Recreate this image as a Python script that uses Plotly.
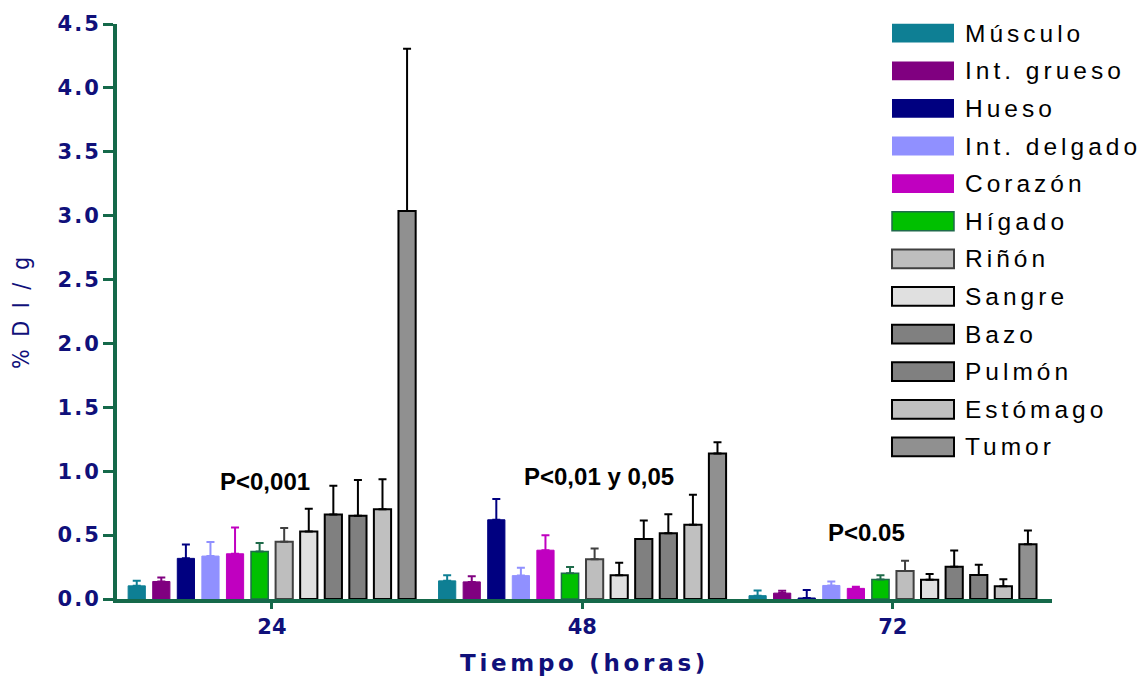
import plotly.graph_objects as go

# ---------------- data ----------------
times = ["24", "48", "72"]
tissues = ["Músculo", "Int. grueso", "Hueso", "Int. delgado", "Corazón", "Hígado",
           "Riñón", "Sangre", "Bazo", "Pulmón", "Estómago", "Tumor"]

musculo = [0.103, 0.142, 0.026]
int_grueso = [0.137, 0.134, 0.046]
hueso = [0.318, 0.620, 0.008]
int_delgado = [0.336, 0.183, 0.106]
corazon = [0.354, 0.382, 0.083]
higado = [0.372, 0.201, 0.152]
rinon = [0.449, 0.312, 0.219]
sangre = [0.529, 0.186, 0.150]
bazo = [0.661, 0.470, 0.253]
pulmon = [0.651, 0.514, 0.188]
estomago = [0.702, 0.581, 0.100]
tumor = [3.036, 1.139, 0.428]

musculo_err = [0.039, 0.044, 0.041]
int_grueso_err = [0.031, 0.044, 0.018]
hueso_err = [0.108, 0.162, 0.062]
int_delgado_err = [0.111, 0.062, 0.031]
corazon_err = [0.206, 0.116, 0.012]
higado_err = [0.067, 0.049, 0.034]
rinon_err = [0.106, 0.083, 0.081]
sangre_err = [0.178, 0.098, 0.046]
bazo_err = [0.225, 0.144, 0.127]
pulmon_err = [0.281, 0.150, 0.080]
estomago_err = [0.235, 0.235, 0.055]
tumor_err = [1.271, 0.087, 0.109]

p_labels = ["P<0,001", "P<0,01 y 0,05", "P<0.05"]

values = [musculo, int_grueso, hueso, int_delgado, corazon, higado,
          rinon, sangre, bazo, pulmon, estomago, tumor]
errors = [musculo_err, int_grueso_err, hueso_err, int_delgado_err, corazon_err, higado_err,
          rinon_err, sangre_err, bazo_err, pulmon_err, estomago_err, tumor_err]

# ---------------- styles ----------------
fills = ["#0E7F94", "#800080", "#000080", "#9090FF", "#C000C0", "#00C000",
         "#BEBEBE", "#E0E0E0", "#808080", "#808080", "#C0C0C0", "#909090"]
outlines = ["#0E7F94", "#800080", "#000080", "#9090FF", "#C000C0", "#1F6B4A",
            "#404040", "#000000", "#000000", "#000000", "#000000", "#000000"]
outline_w = [1, 1, 1, 1, 1, 1.5, 2, 2, 2, 2, 2, 2]
err_colors = ["#0E7F94", "#800080", "#000080", "#9090FF", "#C000C0", "#1F6B4A",
              "#404040", "#000000", "#000000", "#000000", "#000000", "#000000"]

GREEN = "#15694A"
NAVY = "#10107A"
FONT = "Liberation Sans, Arial, sans-serif"
BOLDFONT = "DejaVu Sans, Verdana, sans-serif"
NARROW = "Liberation Sans Narrow, DejaVu Sans Condensed, Arial Narrow, sans-serif"

W, H = 1143, 685
ML, MT = 117, 24
MR = W - 1052
MB = H - 605
PW, PH = W - ML - MR, H - MT - MB


def px_x(p):
    return (p - ML) / PW


def px_y(p):
    return (H - MB - p) / PH


fig = go.Figure()
xpos = list(range(len(times)))
for i, name in enumerate(tissues):
    fig.add_trace(go.Bar(
        x=xpos, y=values[i], name=name, showlegend=False,
        marker=dict(color=fills[i], line=dict(color=outlines[i], width=outline_w[i])),
        error_y=dict(type="data", array=errors[i], arrayminus=[0] * len(times),
                     symmetric=False, color=err_colors[i], thickness=2, width=4),
    ))

annotations = []
p_x = [-0.173, 0.805, 1.784]
p_y = [0.916, 0.955, 0.517]
for k, lab in enumerate(p_labels):
    annotations.append(dict(x=p_x[k], y=p_y[k], xref="x", yref="y", text=lab,
                            showarrow=False, xanchor="left", yanchor="middle",
                            font=dict(family=FONT, size=24, color="#000000", weight="bold")))

# custom legend
shapes = []
leg_top = 33.3
leg_step = 38.0
for i, name in enumerate(tissues):
    cy = leg_top + i * leg_step
    shapes.append(dict(type="rect", xref="paper", yref="paper",
                       x0=px_x(892), x1=px_x(954), y0=px_y(cy - 9.5), y1=px_y(cy + 9.5),
                       fillcolor=fills[i],
                       line=dict(color=outlines[i], width=outline_w[i] if i >= 5 else 0)))
    annotations.append(dict(x=px_x(963), y=px_y(cy), xref="paper", yref="paper",
                            text=name, showarrow=False, xanchor="left", yanchor="middle",
                            font=dict(family=FONT, size=24.5, color="#000000")))

fig.update_layout(
    width=W, height=H,
    margin=dict(l=ML, r=MR, t=MT, b=MB, pad=0),
    plot_bgcolor="white", paper_bgcolor="white",
    barmode="group", bargap=0.05, bargroupgap=0.3,
    shapes=shapes, annotations=annotations,
    font=dict(family=FONT),
    xaxis=dict(range=[-0.499, 2.513], tickvals=xpos, ticktext=times,
               showline=True, linecolor=GREEN, linewidth=4,
               ticks="outside", tickcolor=GREEN, ticklen=6, tickwidth=3,
               showgrid=False, zeroline=False,
               tickfont=dict(family=BOLDFONT, size=21, color=NAVY, weight="bold"),
               title=dict(text="Tiempo (horas)", standoff=18,
                          font=dict(family=BOLDFONT, size=23, color=NAVY, weight="bold"))),
    yaxis=dict(range=[0, 4.5], dtick=0.5, tick0=0, tickformat=".1f",
               showline=True, linecolor=GREEN, linewidth=4,
               ticks="outside", tickcolor=GREEN, ticklen=10, tickwidth=3,
               showgrid=False, zeroline=False,
               tickfont=dict(family=BOLDFONT, size=21, color=NAVY, weight="bold"),
               title=dict(text="% D I / g", standoff=27,
                          font=dict(family=NARROW, size=23, color=NAVY))),
)

post = """
[document.documentElement, document.body].forEach(function(e){
  e.style.margin='0'; e.style.padding='0'; e.style.overflow='hidden';
});
var gd = document.getElementById('{plot_id}');
function spacing(){
  gd.querySelectorAll('g.ytick text').forEach(function(t){t.style.letterSpacing='2px'; t.setAttribute('dx','2');});
  gd.querySelectorAll('text.xtitle').forEach(function(t){t.style.letterSpacing='3.7px';});
  gd.querySelectorAll('text.ytitle').forEach(function(t){t.style.letterSpacing='3px';});
  gd.querySelectorAll('g.annotation').forEach(function(g){
    var idx = parseInt(g.getAttribute('data-index'));
    if (idx >= 3) {
      g.querySelectorAll('text').forEach(function(t){
        t.style.letterSpacing='4px';
        t.setAttribute('dx', String(t.textContent.length * 2));
      });
    }
  });
}
spacing();
gd.on('plotly_afterplot', spacing);
"""

fig.write_html("out.html", post_script=post, config={"displayModeBar": False})
